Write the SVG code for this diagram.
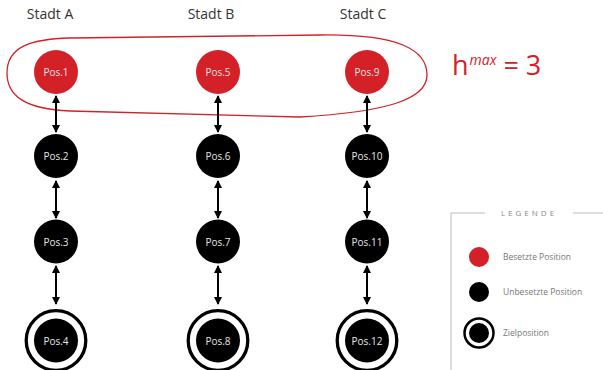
<svg xmlns="http://www.w3.org/2000/svg" width="603" height="370" viewBox="0 0 603 370">
  <style>
    .title { font-family: "Open Sans", "Liberation Sans", sans-serif; font-size: 14px; fill: #333; text-anchor: middle; }
    .red { fill: #d42027; }
    .blk { fill: #000; }
    .ring { fill: none; stroke: #000; stroke-width: 3.3; }
    .lbl { font-family: "Open Sans", "Liberation Sans", sans-serif; font-size: 10px; fill: #e6e6e6; text-anchor: middle; }
    .conn { stroke: #000; stroke-width: 2; marker-start: url(#ah); marker-end: url(#ah); }
    .frame { stroke: #bbb; stroke-width: 1; fill: none; }
    .legtxt { font-family: "Open Sans", "Liberation Sans", sans-serif; font-size: 8.5px; fill: #777; }
  </style>
  <defs>
    <marker id="ah" markerUnits="userSpaceOnUse" markerWidth="8" markerHeight="8" refX="7" refY="4" orient="auto-start-reverse">
      <path d="M0,0 L8,4 L0,8 Z" fill="#000"/>
    </marker>
  </defs>

  <rect width="603" height="370" fill="#fff"/>

  <!-- column headings -->
  <text class="title" x="50" y="19">Stadt A</text>
  <text class="title" x="211" y="19">Stadt B</text>
  <text class="title" x="363" y="19">Stadt C</text>

  <!-- loop enclosing the occupied positions -->
  <path d="M7,73 C7,47 30,39 70,38 L320,35 C400,34 427,50 427,75 C427,100 385,112 300,117 L70,111 C25,109 7,96 7,73 Z" fill="none" stroke="#d42027" stroke-width="1.3"/>

  <text x="452" y="75" font-family="Open Sans, Liberation Sans, sans-serif" fill="#d42027" font-size="27">h<tspan font-size="14" font-style="italic" dy="-10" dx="1">max</tspan><tspan dy="10" dx="7">= 3</tspan></text>

  <!-- connectors -->
  <g id="connectors">
    <line class="conn" x1="56" y1="96" x2="56" y2="132"/>
    <line class="conn" x1="56" y1="181" x2="56" y2="218"/>
    <line class="conn" x1="56" y1="266" x2="56" y2="304"/>
    <line class="conn" x1="218" y1="96" x2="218" y2="132"/>
    <line class="conn" x1="218" y1="181" x2="218" y2="218"/>
    <line class="conn" x1="218" y1="266" x2="218" y2="304"/>
    <line class="conn" x1="367" y1="96" x2="367" y2="132"/>
    <line class="conn" x1="367" y1="181" x2="367" y2="218"/>
    <line class="conn" x1="367" y1="266" x2="367" y2="304"/>
  </g>

  <!-- Stadt A -->
  <g id="pos1"><circle class="red" cx="56" cy="72" r="22"/><text class="lbl" x="56" y="76">Pos.1</text></g>
  <g id="pos2"><circle class="blk" cx="56" cy="156" r="22"/><text class="lbl" x="56" y="160">Pos.2</text></g>
  <g id="pos3"><circle class="blk" cx="56" cy="241.5" r="22"/><text class="lbl" x="56" y="245.5">Pos.3</text></g>
  <g id="pos4"><circle class="ring" cx="56" cy="340.5" r="29.8"/><circle class="blk" cx="56" cy="340.5" r="22"/><text class="lbl" x="56" y="344.5">Pos.4</text></g>

  <!-- Stadt B -->
  <g id="pos5"><circle class="red" cx="218" cy="72" r="22"/><text class="lbl" x="218" y="76">Pos.5</text></g>
  <g id="pos6"><circle class="blk" cx="218" cy="156" r="22"/><text class="lbl" x="218" y="160">Pos.6</text></g>
  <g id="pos7"><circle class="blk" cx="218" cy="241.5" r="22"/><text class="lbl" x="218" y="245.5">Pos.7</text></g>
  <g id="pos8"><circle class="ring" cx="218" cy="340.5" r="29.8"/><circle class="blk" cx="218" cy="340.5" r="22"/><text class="lbl" x="218" y="344.5">Pos.8</text></g>

  <!-- Stadt C -->
  <g id="pos9"><circle class="red" cx="367" cy="72" r="22"/><text class="lbl" x="367" y="76">Pos.9</text></g>
  <g id="pos10"><circle class="blk" cx="367" cy="156" r="22"/><text class="lbl" x="367" y="160">Pos.10</text></g>
  <g id="pos11"><circle class="blk" cx="367" cy="241.5" r="22"/><text class="lbl" x="367" y="245.5">Pos.11</text></g>
  <g id="pos12"><circle class="ring" cx="367" cy="340.5" r="29.8"/><circle class="blk" cx="367" cy="340.5" r="22"/><text class="lbl" x="367" y="344.5">Pos.12</text></g>

  <!-- legend -->
  <g id="legend">
    <path class="frame" d="M485,213 H451 V370 M573,213 H603"/>
    <text x="529" y="216" font-family="Open Sans, Liberation Sans, sans-serif" font-size="8" fill="#888" letter-spacing="3" text-anchor="middle">LEGENDE</text>
    <circle class="red" cx="479" cy="257" r="10"/>
    <text class="legtxt" x="503" y="260">Besetzte Position</text>
    <circle class="blk" cx="479" cy="292" r="10"/>
    <text class="legtxt" x="503" y="295">Unbesetzte Position</text>
    <circle cx="479" cy="333" r="14.5" fill="none" stroke="#000" stroke-width="2.5"/>
    <circle class="blk" cx="479" cy="333" r="10"/>
    <text class="legtxt" x="503" y="336">Zielposition</text>
  </g>
</svg>
